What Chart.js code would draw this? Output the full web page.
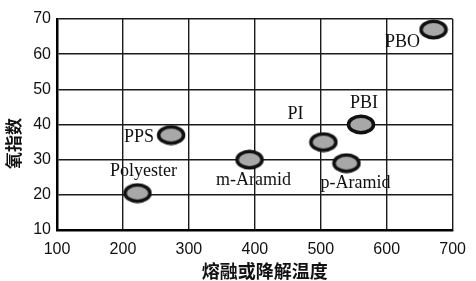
<!DOCTYPE html>
<html>
<head>
<meta charset="utf-8">
<script src="https://cdn.jsdelivr.net/npm/chart.js@4"></script>
<style>
  html, body { margin: 0; padding: 0; background: #fff; }
  #wrap { width: 476px; height: 281px; position: relative; }
</style>
</head>
<body>
<div id="wrap"><canvas id="chart"></canvas></div>
<script>
// fibre data: melt / decomposition temperature vs. limiting oxygen index
const fibres = ['Polyester', 'PPS', 'm-Aramid', 'PI', 'p-Aramid', 'PBI', 'PBO'];
const temps  = [222, 273, 392, 504, 539, 561, 671];
const loi    = [20.5, 37, 30, 35, 29, 40, 67];
const xTicks = [100, 200, 300, 400, 500, 600, 700];
const yTicks = [10, 20, 30, 40, 50, 60, 70];
const xTitle = '熔融或降解温度';
const yTitle = '氧指数';

// label offsets from each marker (px)
const labelOffset = [[6, -22], [-32, 2], [4, 21], [-28, -28], [9, 20], [3, -21], [-31, 13]];

// ellipse marker drawn once on a small canvas
function makeMarker() {
  const c = document.createElement('canvas');
  c.width = 30; c.height = 21;
  const g = c.getContext('2d');
  g.beginPath();
  g.ellipse(15, 10.5, 12.5, 8.2, 0, 0, Math.PI * 2);
  g.fillStyle = '#a8a8a8';
  g.fill();
  g.lineWidth = 3.5;
  g.strokeStyle = '#111';
  g.stroke();
  return c;
}

const labelPlugin = {
  id: 'fibreLabels',
  afterDatasetsDraw(chart) {
    const ctx = chart.ctx;
    const meta = chart.getDatasetMeta(0);
    const area = chart.chartArea;
    ctx.save();
    ctx.font = '18px "Liberation Serif", serif';
    ctx.fillStyle = '#111';
    ctx.textAlign = 'center';
    ctx.textBaseline = 'middle';
    meta.data.forEach((pt, i) => {
      const [dx, dy] = labelOffset[i];
      ctx.fillText(fibres[i], pt.x + dx, pt.y + dy);
    });
    // axis titles (sit a bit off-centre in the original)
    ctx.font = 'bold 18px "Noto Sans CJK SC", sans-serif';
    ctx.fillText(xTitle, (area.left + area.right) / 2 + 10, 271);
    ctx.font = 'bold 17px "Noto Sans CJK SC", sans-serif';
    ctx.translate(14, (area.top + area.bottom) / 2 + 19);
    ctx.rotate(-Math.PI / 2);
    ctx.fillText(yTitle, 0, 0);
    ctx.restore();
  }
};

const tickFont = { family: '"Liberation Sans", Arial, sans-serif', size: 16 };
const gridStyle = { color: '#1a1a1a', lineWidth: 1.4, drawTicks: false };
const borderStyle = { color: '#000', width: 2.5 };

new Chart(document.getElementById('chart'), {
  type: 'scatter',
  data: {
    datasets: [{
      data: temps.map((t, i) => ({ x: t, y: loi[i] })),
      pointStyle: makeMarker(),
      pointRadius: 12,
      clip: false
    }]
  },
  options: {
    responsive: true,
    maintainAspectRatio: false,
    animation: false,
    layout: { padding: { top: 19, right: 7, left: 0, bottom: 0 } },
    plugins: { legend: { display: false }, tooltip: { enabled: false } },
    scales: {
      x: {
        type: 'linear', min: 100, max: 700,
        afterBuildTicks: s => { s.ticks = xTicks.map(v => ({ value: v })); },
        afterFit: s => { s.height = 51; },
        grid: gridStyle, border: borderStyle,
        ticks: { font: tickFont, color: '#111', padding: 10, maxRotation: 0 }
      },
      y: {
        type: 'linear', min: 10, max: 70,
        afterBuildTicks: s => { s.ticks = yTicks.map(v => ({ value: v })); },
        afterFit: s => { s.width = 57; },
        grid: gridStyle, border: borderStyle,
        ticks: { font: tickFont, color: '#111', padding: 6 }
      }
    }
  },
  plugins: [labelPlugin]
});
</script>
</body>
</html>
